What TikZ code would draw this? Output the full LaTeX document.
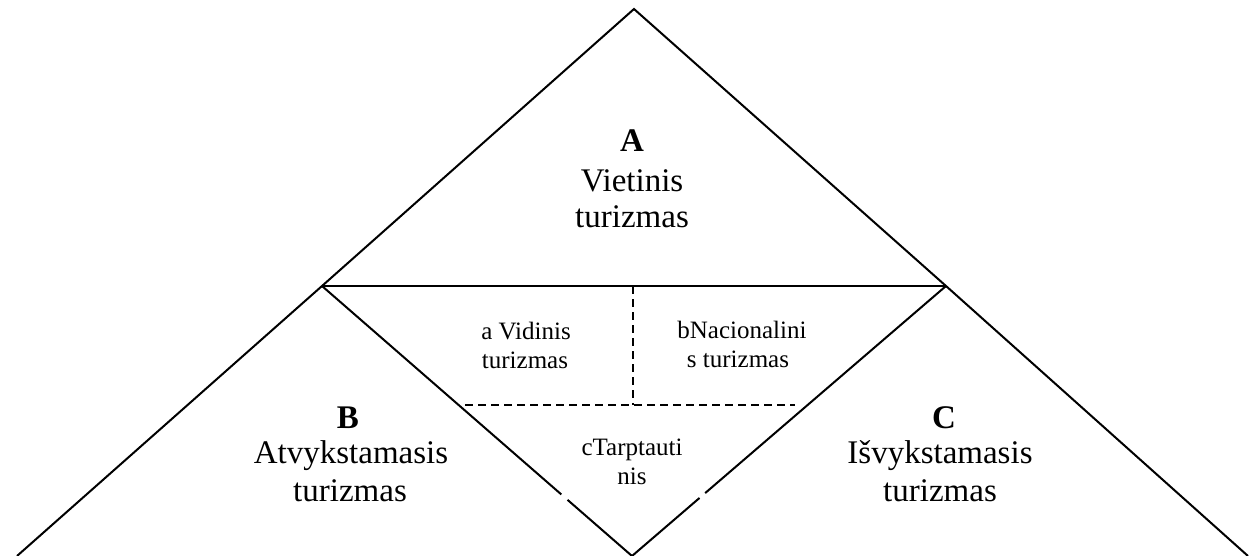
\documentclass[tikz,border=0pt]{standalone}
\usepackage{fontspec}
\setmainfont{Liberation Serif}
\usetikzlibrary{calc}
\begin{document}
\begin{tikzpicture}[x=1pt,y=-1pt,
  edge/.style={line width=2pt,line cap=butt},
  dashedge/.style={line width=1.7pt,dash pattern=on 8pt off 5pt},
  big/.style={inner sep=0pt,anchor=base,font=\fontsize{33}{38}\selectfont},
  bigb/.style={inner sep=0pt,anchor=base,font=\fontsize{33}{38}\selectfont\bfseries},
  small/.style={inner sep=0pt,anchor=base,font=\fontsize{25}{29}\selectfont}]
\useasboundingbox (0,0) rectangle (1250,556);
% vertices
\coordinate (apex) at (634,9);
\coordinate (L) at (322,286);
\coordinate (R) at (946,286);
\coordinate (BL) at (17,556);
\coordinate (BR) at (1248,556);
\coordinate (Bot) at (632,556);
\coordinate (DT) at (633,286);
\coordinate (DM) at (633,405);
\coordinate (HL) at (465,405);
\coordinate (HR) at (795,405);
% outer lines
\draw[edge] (BL) -- (L) -- (apex) -- (R) -- (BR);
\draw[edge] (L) -- (R);
% inner triangle sides with small gaps
\draw[edge] (L) -- ($(L)!0.772!(Bot)$);
\draw[edge] ($(L)!0.792!(Bot)$) -- (Bot);
\draw[edge] (R) -- ($(R)!0.767!(Bot)$);
\draw[edge] ($(R)!0.785!(Bot)$) -- (Bot);
% dashed dividers
\draw[dashedge] (DT) -- (DM);
\draw[dashedge] (HL) -- (HR);
% texts
\node[bigb] (A) at (632,152) {A};
\node[big] (A1) at (632,192) {Vietinis};
\node[big] (A2) at (632,227) {turizmas};
\node[bigb] (B) at (348,428) {B};
\node[big] (B1) at (351,463) {Atvykstamasis};
\node[big] (B2) at (350,501) {turizmas};
\node[bigb] (C) at (944,428) {C};
\node[big] (C1) at (940,463) {Išvykstamasis};
\node[big] (C2) at (940,501) {turizmas};
\node[small] (a1) at (526,339) {a Vidinis};
\node[small] (a2) at (525,368) {turizmas};
\node[small] (b1) at (742,338) {bNacionalini};
\node[small] (b2) at (738,367) {s turizmas};
\node[small] (c1) at (632,455) {cTarptauti};
\node[small] (c2) at (632,484) {nis};
\end{tikzpicture}
\end{document}
